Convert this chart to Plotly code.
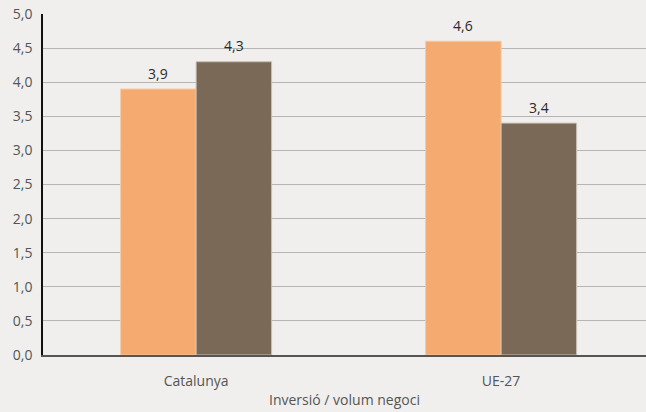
import plotly.graph_objects as go

categories = ["Catalunya", "UE-27"]
series_a = [3.9, 4.6]
series_b = [4.3, 3.4]
y_ticks = [0, 0.5, 1, 1.5, 2, 2.5, 3, 3.5, 4, 4.5, 5]

font_family = "Open Sans, Noto Sans, sans-serif"

fig = go.Figure()
fig.add_trace(go.Bar(
    x=categories, y=series_a, name="A",
    marker=dict(color="#F5AA6F", line=dict(color="#F7C9A4", width=1)),
))
fig.add_trace(go.Bar(
    x=categories, y=series_b, name="B",
    marker=dict(color="#7A6957", line=dict(color="#C9C0B6", width=1)),
))

for vals, shift in ((series_a, -38), (series_b, 38)):
    for c, v in zip(categories, vals):
        fig.add_annotation(
            x=c, y=v, xref="x", yref="y",
            text=f"{v:.1f}".replace(".", ","),
            showarrow=False, xshift=shift, yshift=16,
            font=dict(size=14, color="#2A2A2A", family=font_family),
        )

fig.update_layout(
    width=646, height=412,
    margin=dict(l=43, r=0, t=14, b=57),
    paper_bgcolor="#F0EFED", plot_bgcolor="#F0EFED",
    barmode="group", bargap=0.505, bargroupgap=0,
    showlegend=False,
    separators=",.",
    font=dict(family=font_family, size=14, color="#555555"),
    xaxis=dict(
        range=[-0.502, 1.475],
        showline=True, linecolor="#555555", linewidth=1.5,
        ticks="", ticklabelstandoff=12,
        tickfont=dict(size=14, color="#555555"),
        title=dict(text="Inversió / volum negoci", font=dict(size=14, color="#555555"), standoff=7),
    ),
    yaxis=dict(
        range=[0, 5], tickvals=y_ticks, tickformat=".1f",
        showline=True, linecolor="#111111", linewidth=1.5,
        showgrid=True, gridcolor="#B5B5B5", gridwidth=1,
        zeroline=False, ticks="", ticklen=0, ticklabelstandoff=6,
        tickfont=dict(size=14, color="#555555"),
    ),
)

fig.write_html(
    "out.html",
    config={"displayModeBar": False},
    post_script="document.body.style.margin='0';document.body.style.overflow='hidden';",
)
